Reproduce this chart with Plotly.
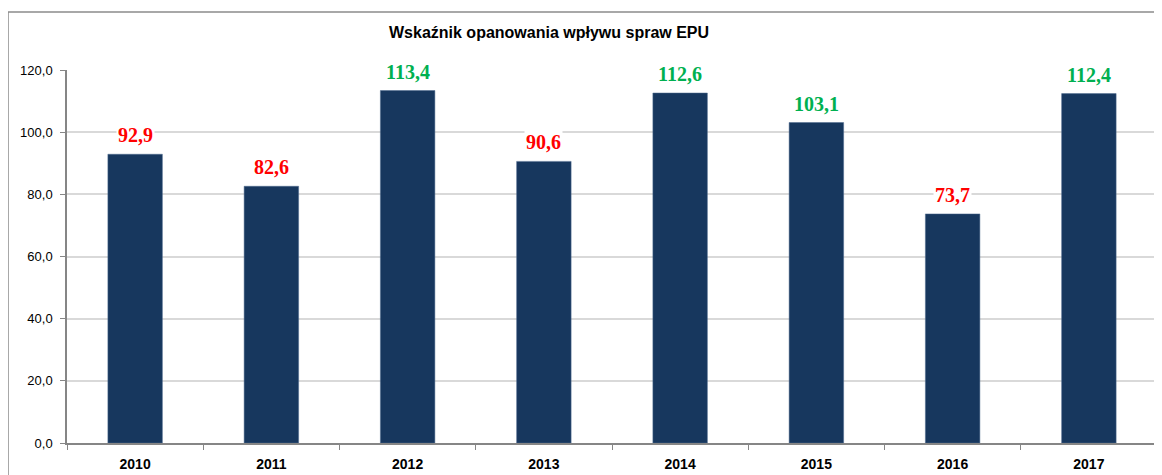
import plotly.graph_objects as go

years = ["2010", "2011", "2012", "2013", "2014", "2015", "2016", "2017"]
values = [92.9, 82.6, 113.4, 90.6, 112.6, 103.1, 73.7, 112.4]
y_ticks = [0, 20, 40, 60, 80, 100, 120]
title_text = "Wskaźnik opanowania wpływu spraw EPU"

OFF = 8  # page body offset
W, H = 1162 - OFF, 475 - OFF
ml, mr, mt, mb = 67 - OFF, 5 - OFF + 8, 70 - OFF, 32
pw = W - ml - mr
ph = H - mt - mb

fig = go.Figure()
fig.add_trace(go.Bar(
    x=years, y=values,
    marker=dict(color="#17375E", line=dict(color="#4F6A8F", width=0.5)),
    hoverinfo="x+y",
))

for i, v in enumerate(values):
    col = "#00B050" if v >= 100 else "#FF0000"
    fig.add_annotation(
        x=i, y=v, xref="x", yref="y",
        text=f"<b>{v:.1f}</b>".replace(".", ","),
        showarrow=False, yshift=19, yanchor="middle",
        font=dict(family="Liberation Serif, Times New Roman, serif", size=20, color=col),
        bgcolor="white", borderpad=1,
    )

fig.add_annotation(
    x=(549 - OFF - ml) / pw, y=1 + (mt - (33 - OFF)) / ph, xref="paper", yref="paper",
    xanchor="center", yanchor="middle",
    text="<b>" + title_text + "</b>", showarrow=False,
    font=dict(family="Liberation Sans, Arial, sans-serif", size=16, color="black"),
)

# outer border
fig.add_shape(
    type="rect", xref="paper", yref="paper",
    x0=(0 - ml) / pw, x1=(W + 20 - ml) / pw,
    y0=-(H + 20 - mt - ph) / ph, y1=1 + (mt - (12 - OFF)) / ph,
    line=dict(color="#8C8C8C", width=1.5), layer="below",
)

fig.update_layout(
    width=W, height=H,
    margin=dict(l=ml, r=mr, t=mt, b=mb, autoexpand=False),
    paper_bgcolor="white", plot_bgcolor="white",
    separators=", ",
    bargap=0.6,
    showlegend=False,
    font=dict(family="Liberation Sans, Arial, sans-serif", color="black"),
)
fig.update_yaxes(
    range=[0, 120], tickvals=y_ticks, tickformat=".1f",
    showgrid=True, gridcolor="#D9D9D9", gridwidth=1.5,
    showline=True, linecolor="#868686", linewidth=1.5,
    ticks="outside", ticklen=5, tickcolor="#868686",
    ticklabelstandoff=5,
    tickfont=dict(size=13, family="Liberation Sans Narrow, Liberation Sans, Arial, sans-serif"),
    zeroline=False, automargin=False,
)
fig.update_xaxes(
    type="category", range=[-0.5, len(years) - 0.5],
    showline=True, linecolor="#868686", linewidth=1.5,
    ticks="outside", ticklen=5, tickcolor="#868686", tickson="boundaries",
    ticklabelstandoff=7,
    tickfont=dict(size=14, family="Liberation Sans, Arial, sans-serif"),
    tickprefix="<b>", ticksuffix="</b>", tickangle=0, automargin=False,
)

fig.write_html("out.html")
